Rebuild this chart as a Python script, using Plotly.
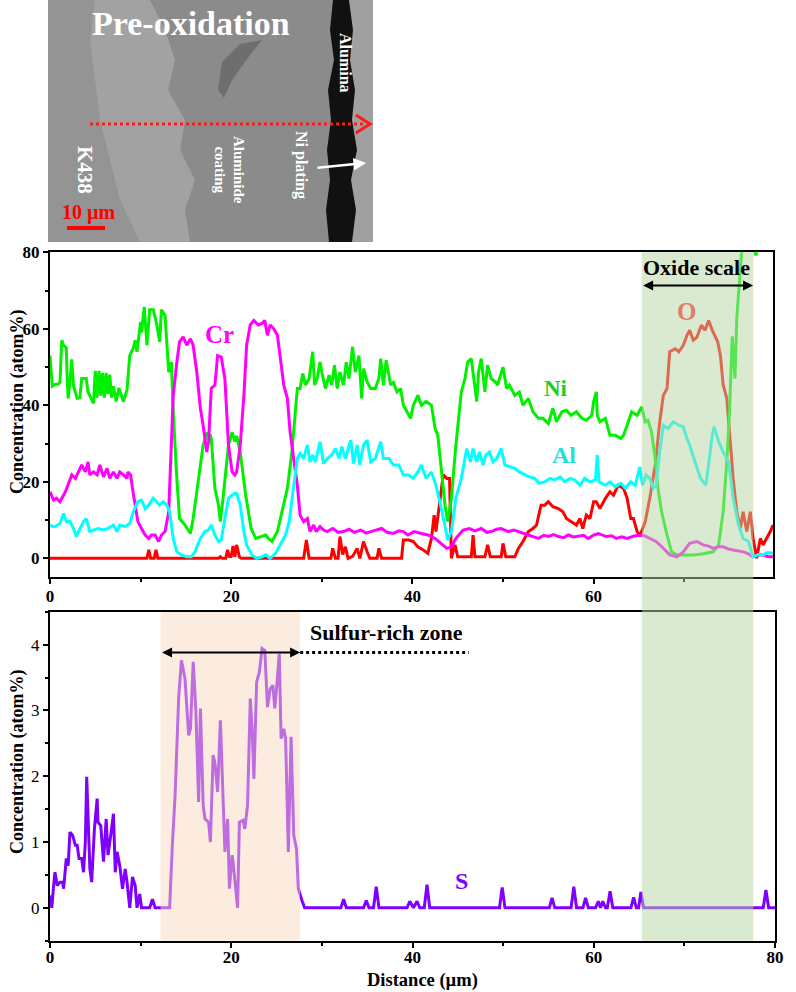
import plotly.graph_objects as go

# ---------------- data ----------------
ni_x = [0.0,0.1,0.25,0.6,0.9,1.1,1.3,1.5,1.8,1.9,2.0,2.2,2.4,2.6,2.8,3.0,3.3,3.5,4.0,4.2,4.5,4.8,5.0,5.2,5.4,5.6,5.8,6.0,6.2,6.4,6.6,6.8,7.0,7.3,7.6,8.1,8.5,8.8,9.2,9.4,9.6,10.0,10.1,10.4,10.7,11.0,11.4,11.8,12.1,12.3,12.7,13.1,13.4,13.6,14.0,14.3,14.9,15.5,15.8,16.4,16.9,17.3,17.7,17.8,18.2,18.6,18.8,19.1,19.7,20.1,20.4,20.6,21.0,21.6,22.2,22.7,23.2,23.8,24.1,24.5,25.1,25.6,26.2,26.7,27.1,27.3,27.6,27.9,28.2,28.6,29.0,29.2,29.5,29.8,30.0,30.4,30.8,31.1,31.4,31.7,32.0,32.4,32.7,33.0,33.4,33.7,34.1,34.4,34.6,35.0,35.4,35.9,36.3,36.5,36.8,37.1,37.6,37.9,38.3,38.7,39.0,39.4,39.8,40.1,40.6,41.0,41.5,42.1,42.5,42.8,43.2,43.6,43.9,44.3,44.8,45.4,45.8,46.1,46.5,46.8,47.1,47.3,47.6,48.0,48.3,48.7,49.2,49.4,50.0,50.4,50.7,51.3,51.8,52.2,52.8,53.3,53.9,54.4,55.0,55.5,55.9,56.5,57.0,57.5,58.1,58.7,59.2,59.8,60.0,60.3,60.4,60.7,61.3,61.8,62.4,63.0,63.3,63.7,64.2,64.8,65.3,65.7,66.0,66.4,66.8,67.1,67.5,68.1,68.6,69.2,69.9,71.0,72.1,73.2,73.8,74.3,74.7,75.0,75.3,75.6,75.8,76.1,76.3,76.6,77.0,77.5,77.9,78.3,78.8,79.4,80.0]
ni_y = [53,50,45,45.5,45.5,46,57,55.7,55,47,41.8,46,52,45,43,41.8,42,47,47,43.5,42,40.5,49,42,49,42.5,48.5,42,48.5,43,48,42,45,41,44.5,41,44,53,55,57,54,61.8,59,65.7,55.7,65,65,61,56.6,65,63.5,48.7,51.3,38.3,20.9,10.4,8.7,6.5,10.4,20.9,29.6,32.6,32.2,31.3,18.3,13.9,9.6,15.7,29.6,33,30.5,32,27.8,16.5,7.8,5.2,5.7,6.1,5.2,4.4,7,12.2,18.3,27.8,40,44.4,44.4,48.3,45.3,47,54,45.3,47,51.3,48.7,44.4,47.9,45.3,50.5,44.4,48.7,45.3,51.3,47,55.3,48.7,53,41.8,49.6,46.1,44.4,44.4,47,52.2,45.3,51.8,45.3,46,43.5,44.4,40,38.3,36.6,40,42.6,40,41,40,34,32.2,22.6,13.9,9.6,15.7,29.6,43.5,47,51.3,52.2,47,41,48.7,52.2,43.5,50.5,47,46,45.3,50,44.4,45.3,42.6,43.5,40,41.8,38.3,36.6,36.6,35.2,39.2,35.7,38.3,38.7,37.4,38.3,36.6,36.1,37.4,41,43.5,37.4,35.7,36.6,32.2,32.2,31.3,32.2,34.8,38.3,37.4,39.6,35.7,36.1,33,26,18.3,12.2,6.1,1.7,0.9,0.9,0.9,1.2,1.7,3.5,12.2,25.2,38.3,58,47,62.7,73,79,85,88,84,79.2,83,88,90,90]

cr_x = [0.0,0.4,0.7,1.1,1.7,2.0,2.4,2.8,3.1,3.5,3.9,4.2,4.4,4.8,5.2,5.5,5.9,6.3,6.6,7.0,7.4,7.7,8.1,8.5,8.6,8.9,9.1,9.4,9.7,10.1,10.5,10.9,11.2,11.6,12.0,12.3,12.7,13.1,13.4,13.6,14.0,14.3,14.7,15.1,15.5,15.8,16.2,16.6,16.9,17.3,17.5,17.7,17.8,18.2,18.5,18.9,19.3,19.5,19.7,20.1,20.4,20.6,21.0,21.4,21.7,22.1,22.5,23.0,23.4,23.7,24.0,24.3,24.7,25.1,25.4,25.8,26.2,26.5,26.9,27.3,27.6,28.0,28.4,28.7,29.1,29.4,29.8,30.2,30.6,31.2,31.8,32.4,33.0,33.6,34.3,34.9,35.4,36.0,36.6,37.2,37.9,38.5,39.0,39.5,40.2,41.0,41.7,42.5,43.2,43.8,44.3,44.8,45.6,46.3,46.9,47.6,48.2,48.7,49.3,49.8,50.6,51.2,51.7,52.3,52.8,53.4,53.9,54.5,55.0,55.6,56.1,56.7,57.2,57.8,58.3,58.9,59.4,60.0,60.5,61.4,62.0,62.5,63.1,63.7,64.4,65.1,65.7,66.2,66.9,67.7,68.4,69.2,69.9,70.6,71.4,72.1,72.7,73.2,73.8,74.3,74.9,75.4,76.0,76.5,77.0,77.6,78.2,78.7,79.2,79.8]
cr_y = [17.4,15.2,15.7,14.8,17.4,19.1,21.8,20.9,22.6,24.4,22.6,25.2,21.8,22.6,21.8,24.4,21.3,23.5,20.9,22.6,20.9,22.6,21.8,20.9,22.6,21.8,18.3,13.9,9.6,7.8,6.1,5.2,6.1,6.1,4.4,6.1,7,12.2,29.6,42.6,51.3,56.6,57.9,55.7,57.4,55.7,48.7,39.2,34.8,27.8,30.5,38.3,44.4,45.3,53,52.6,47,38.3,29.6,22.6,21.8,22.6,29.6,42.6,55.7,61,62.2,61,61.4,62.2,58.3,61,60,58.3,52.2,45.3,41.8,33,26,19.1,11.3,9.6,10.4,7,8.7,7,8.3,7.4,7,7.8,6.8,7,7.6,6.8,7.4,6.6,7,7.4,7.8,6.8,6.5,7.2,7,6.1,7,6.5,6.1,5.2,3.9,2.6,3,5.2,7.4,7.8,7.2,7.8,6.8,7,7.6,7.8,7,7.4,7,6.6,6.1,5.6,5.2,6,5.7,6.2,5.7,5.4,6.1,5.6,5.7,6,5.2,6.1,6.5,5.7,5.9,5.2,5.6,5.2,5.8,6.1,5.8,5.2,4.4,2.6,0.9,0.4,1.7,3.9,4.4,3.5,3.2,2.6,3.0,3,2.4,2.2,2.0,1.7,1.3,0.4,0.9,0.9,0.5,0.4]

al_x = [0.0,0.3,0.6,1.1,1.5,1.8,2.2,2.6,2.9,3.3,3.7,4.0,4.4,4.8,5.3,5.9,6.4,7.0,7.4,7.7,8.3,8.8,9.2,9.7,10.1,10.5,10.9,11.4,11.8,12.1,12.5,12.9,13.2,13.6,14.0,14.5,15.1,15.6,16.0,16.6,17.1,17.5,17.8,18.2,18.6,18.9,19.3,19.7,20.1,20.4,20.6,21.0,21.4,21.7,22.3,22.8,23.4,23.8,24.3,24.9,25.4,26.0,26.4,26.7,27.1,27.3,27.6,28.0,28.4,28.7,29.0,29.3,29.8,30.2,30.6,31.1,31.5,31.9,32.2,32.6,33.2,33.5,33.9,34.2,34.6,35.0,35.4,35.9,36.5,36.8,37.4,37.9,38.5,39.0,39.6,40.1,40.6,41.0,41.5,42.1,42.6,43.2,43.6,43.9,44.3,44.8,45.4,45.8,46.0,46.4,46.7,47.1,47.4,47.8,48.1,48.5,48.9,49.3,49.8,50.2,50.7,51.3,51.8,52.4,52.9,53.5,54.0,54.6,55.2,55.7,56.3,56.8,57.4,57.9,58.5,59.0,59.6,60.2,60.4,60.6,61.3,61.8,62.4,63.0,63.5,64.1,64.6,65.1,65.4,65.8,66.2,66.6,66.9,67.3,67.7,68.2,68.8,69.4,69.9,70.3,70.6,71.2,71.8,72.4,72.7,73.1,73.3,73.8,74.3,74.9,75.4,76.0,76.5,77.1,77.6,78.2,78.7,79.2,79.8]
al_y = [8.7,8.3,8.3,9.1,11.7,9.6,9.6,7.8,5.7,7.8,9.6,10.4,7,7.4,7.8,7.4,7.8,8.7,7,8.7,8.3,9.1,12.2,14.8,15.2,13,13.9,15.7,14.8,13.9,14.8,13.9,12.2,5.2,1.7,0.9,0.4,0.4,1.7,5.2,7,7.4,8.7,6.1,4.4,4.8,10.4,15.7,16.5,17,17,13.9,7,3.5,0.9,0,0.4,0.9,0,1.3,3.5,6.1,9.6,15.7,22.6,26.1,27.4,26.1,29.6,25.2,27,25.2,30.5,24.8,26.1,27,28.7,26.1,29.2,26.1,30.9,24.8,29.6,24.4,29.6,30.9,25.2,26.1,30.5,26.1,26.1,24.4,24.4,21.8,21.8,20.9,22.6,24.4,20.9,22.6,19.1,13,7.8,4.8,7,15.7,20.9,26.1,28.7,25.2,28.7,25.2,27.8,24.4,27,27.8,25.2,26.1,28.7,24.4,23.9,23.5,22.6,21.8,21.3,20.9,19.6,20,20.9,20.5,21.3,20,20.9,20.5,19.1,20.9,20,20.5,27,20,19.1,20,18.7,19.6,18.3,20,19.1,23.9,19.1,21.8,20.9,18.3,19.1,27.8,34.8,33.9,35.7,34.8,34.4,31.3,29.6,25.2,20.9,19.1,25.2,32.2,34.4,30.5,27.8,25.2,15.7,8.7,5.2,4.4,0.4,1.0,0.9,1.5,1.3]

o_x = [0.0,10.7,10.9,11.1,11.5,11.7,11.9,18.6,18.8,19.0,19.4,19.6,19.8,20.0,20.2,20.4,20.6,20.9,21.1,28.0,28.3,28.6,31.0,31.2,31.5,31.8,32.0,32.3,32.6,32.9,33.4,33.9,34.2,34.6,35.0,35.3,36.1,36.3,36.6,38.8,39.0,39.6,40.1,40.6,41.2,41.7,42.1,42.4,42.6,43.0,43.4,43.8,44.1,44.3,44.7,45.0,45.8,46.5,46.7,46.9,48.0,48.3,48.6,49.8,50.0,50.3,51.3,51.7,52.2,52.8,53.3,53.7,54.2,54.6,55.0,55.5,56.1,56.6,57.0,57.5,58.1,58.5,58.8,59.2,59.6,60.0,60.3,60.7,61.3,61.8,62.2,62.7,63.3,63.7,64.1,64.4,64.8,65.1,65.3,65.7,66.2,66.8,67.3,67.7,68.1,68.4,69.0,69.4,69.9,70.3,70.6,71.0,71.4,71.9,72.3,72.7,73.1,73.7,74.0,74.3,74.7,75.0,75.4,75.8,76.2,76.5,76.9,77.3,77.6,78.0,78.4,78.7,79.1,79.5,79.8]
o_y = [0,0,2.2,0,0,2.2,0,0,0.4,0,0,2.2,0.5,0.5,3.2,0.4,3.5,0.4,0,0,4.8,0,0,2.6,0,0,5.7,1.0,3,0,0.5,2.6,0,4.4,1.7,0,0,2.6,0,0,4.8,4.8,4.4,3,2.2,1.3,5.2,11.3,7,13.9,21.8,20.9,20.9,0,3.5,0.4,0.4,0.4,6.1,0.4,0.4,3.5,0.4,0.4,3.9,0.4,0.4,2.6,4.4,7,7.8,8.7,13.9,13.9,14.8,13.5,13,12.2,10.4,9.6,8.7,10.4,7.8,11.3,10.4,14.8,14.8,13,15.7,17.4,16.5,19.1,18.3,15.7,10.4,10.4,7,6.1,7,9.6,15.7,24.4,35.7,42.6,44.4,54,54.8,54,55.7,58.3,59.6,57,57.8,61,59.6,62.2,59.6,56.6,53,45.3,41.8,33,20.9,12.2,7.8,12.2,7,12.2,5.2,0,5.2,3.5,5.2,7,8.7]

s_x = [0.0,0.2,0.4,0.55,0.8,1.1,1.4,1.5,1.8,2.0,2.2,2.5,2.8,3.0,3.2,3.5,3.7,3.9,4.05,4.2,4.4,4.6,4.9,5.2,5.3,5.6,5.9,6.2,6.4,6.7,7.0,7.2,7.4,7.7,8.0,8.3,8.5,8.8,9.1,9.4,9.6,9.9,10.1,11.0,11.3,11.6,13.2,13.5,13.8,14.2,14.5,14.9,15.3,15.5,15.8,16.1,16.4,16.6,16.9,17.1,17.5,17.7,18.0,18.2,18.5,18.8,19.1,19.3,19.6,19.8,20.1,20.2,20.7,20.9,21.3,21.5,21.8,22.1,22.3,22.5,22.8,23.1,23.4,23.7,24.0,24.3,24.6,24.8,25.0,25.3,25.5,25.8,26.0,26.3,26.6,26.9,27.2,27.4,27.8,28.1,32.1,32.4,32.7,34.6,34.9,35.2,35.7,36.0,36.3,39.4,39.7,40.1,40.5,40.8,41.3,41.6,41.9,49.6,49.9,50.2,55.1,55.4,55.7,57.5,57.8,58.1,58.8,59.1,59.4,60.2,60.5,60.75,61.0,61.3,61.5,61.8,62.1,64.1,64.4,64.7,64.95,65.2,65.5,78.7,79.0,79.3,80.0]
s_y = [0.19,0,0.34,0.54,0.34,0.39,0.39,0.29,0.75,0.64,1.15,1.1,0.95,0.95,0.75,0.75,0.54,1.0,1.99,1.45,0.59,0.39,1.2,1.66,1.3,1.25,0.7,1.35,0.8,1.1,1.43,0.54,0.85,0.64,0.29,0.59,0.39,0,0.47,0.34,0,0.21,0,0,0.13,0,0,0.95,1.7,3.2,3.76,3.48,2.62,2.72,3.74,2.98,1.61,3.03,1.56,1.35,1.3,1.0,2.32,2.2,1.76,2.85,1.7,0.85,1.35,0.29,0.8,0.7,0,1.3,1.33,1.2,1.56,3.18,2.72,1.96,3.43,3.58,3.94,3.91,3.05,3.33,3.38,3.03,3.33,3.86,2.57,2.72,2.57,0.85,2.6,1.1,0.9,0.29,0.11,0,0,0.13,0,0,0.11,0,0,0.32,0,0,0.1,0,0.1,0,0,0.35,0,0,0.31,0,0,0.15,0,0,0.32,0,0,0.15,0,0,0.1,0,0.1,0,0,0.25,0,0,0.16,0,0,0.24,0,0,0.27,0,0]

x_ticks = [0, 20, 40, 60, 80]
top_y_ticks = [0, 20, 40, 60, 80]
bot_y_ticks = [0, 1, 2, 3, 4]
oxide_zone = [65.3, 77.6]
sulfur_zone = [12.2, 27.6]

# ---------------- figure ----------------
W, H = 796, 992
def PX(px): return px / W
def PY(py): return 1 - py / H

SERIF = "Liberation Serif"
fig = go.Figure()

line_w = 3
fig.add_trace(go.Scatter(x=o_x, y=o_y, mode="lines", line=dict(color="#ff0000", width=line_w), xaxis="x", yaxis="y", name="O"))
fig.add_trace(go.Scatter(x=ni_x, y=ni_y, mode="lines", line=dict(color="#00f000", width=line_w), xaxis="x", yaxis="y", name="Ni"))
fig.add_trace(go.Scatter(x=cr_x, y=cr_y, mode="lines", line=dict(color="#ff00ff", width=line_w), xaxis="x", yaxis="y", name="Cr"))
fig.add_trace(go.Scatter(x=al_x, y=al_y, mode="lines", line=dict(color="#00ffff", width=line_w), xaxis="x", yaxis="y", name="Al"))
fig.add_trace(go.Scatter(x=s_x, y=s_y, mode="lines", line=dict(color="#8000ff", width=line_w), xaxis="x2", yaxis="y2", name="S"))

axis_common = dict(showline=True, linecolor="black", linewidth=2, mirror=True,
                   ticks="outside", ticklen=5, tickwidth=1.5, tickcolor="black",
                   showgrid=False, zeroline=False)

top_dom = [PY(576.7), PY(252.3)]
bot_dom = [PY(940.7), PY(611.7)]

fig.update_layout(
    width=W, height=H, margin=dict(l=0, r=0, t=0, b=0, autoexpand=False),
    paper_bgcolor="white", plot_bgcolor="rgba(0,0,0,0)", showlegend=False,
    font=dict(family=SERIF, color="black"),
    xaxis=dict(domain=[PX(50), PX(773)], range=[0, 79.8], tickvals=x_ticks,
               tickfont=dict(family=SERIF, size=17, weight="bold"), anchor="y", ticklabelstandoff=-2,
               minor=dict(dtick=10, ticks="outside", ticklen=3, tickcolor="black"), **axis_common),
    yaxis=dict(domain=top_dom, range=[-4.8, 80], tickvals=top_y_ticks,
               tickfont=dict(family=SERIF, size=17, weight="bold"), anchor="x",
               minor=dict(dtick=10, ticks="outside", ticklen=3, tickcolor="black"), **axis_common),
    xaxis2=dict(domain=[PX(50), PX(775)], range=[0, 80], tickvals=x_ticks,
                tickfont=dict(family=SERIF, size=17, weight="bold"), anchor="y2", ticklabelstandoff=-5,
                minor=dict(dtick=10, ticks="outside", ticklen=3, tickcolor="black"), **axis_common),
    yaxis2=dict(domain=bot_dom, range=[-0.5, 4.5], tickvals=bot_y_ticks,
                tickfont=dict(family=SERIF, size=17), anchor="x2",
                minor=dict(dtick=0.5, ticks="outside", ticklen=3, tickcolor="black"), **axis_common),
)

shapes = []
# ---- SEM micrograph mock-up ----
def path(pts):
    return "M " + " L ".join(f"{PX(a):.5f},{PY(b):.5f}" for a, b in pts) + " Z"

shapes.append(dict(type="rect", xref="paper", yref="paper", x0=PX(48), x1=PX(373), y0=PY(242), y1=PY(0),
                   fillcolor="#8b8b8b", line=dict(width=0), layer="below"))
shapes.append(dict(type="path", xref="paper", yref="paper", layer="below", line=dict(width=0), fillcolor="#949494",
                   path=path([(48,0),(95,0),(90,40),(95,80),(100,120),(110,160),(120,200),(140,242),(48,242)])))
shapes.append(dict(type="path", xref="paper", yref="paper", layer="below", line=dict(width=0), fillcolor="#a2a2a2",
                   path=path([(95,0),(150,0),(165,30),(175,60),(168,90),(185,120),(180,150),(195,180),(185,210),(190,242),
                              (140,242),(120,200),(110,160),(100,120),(95,80),(90,40)])))
shapes.append(dict(type="path", xref="paper", yref="paper", layer="below", line=dict(width=0), fillcolor="#6e6e6e",
                   path=path([(222,62),(240,44),(262,40),(250,55),(232,80),(224,98),(218,90)])))
shapes.append(dict(type="path", xref="paper", yref="paper", layer="below", line=dict(width=0), fillcolor="#a0a0a0",
                   path=path([(349,0),(373,0),(373,242),(352,242)])))
shapes.append(dict(type="path", xref="paper", yref="paper", layer="below", line=dict(width=0), fillcolor="#111111",
                   path=path([(333,0),(330,30),(334,60),(328,90),(331,120),(327,150),(330,180),(326,210),(329,242),
                              (352,242),(356,210),(351,180),(357,150),(352,120),(355,90),(350,60),(353,30),(349,0)])))
# red dotted scan line with open arrowhead
shapes.append(dict(type="line", xref="paper", yref="paper", x0=PX(90), x1=PX(366), y0=PY(124), y1=PY(124),
                   line=dict(color="#ff1a1a", width=3, dash="dot")))
shapes.append(dict(type="path", xref="paper", yref="paper", line=dict(color="#ff1a1a", width=3),
                   path=f"M {PX(356):.5f},{PY(115):.5f} L {PX(370):.5f},{PY(124):.5f} L {PX(356):.5f},{PY(133):.5f}"))
# scale bar
shapes.append(dict(type="line", xref="paper", yref="paper", x0=PX(67), x1=PX(105), y0=PY(228), y1=PY(228),
                   line=dict(color="#ff0000", width=4)))

# ---- highlighted zones ----
shapes.append(dict(type="rect", xref="x2", yref="paper", x0=oxide_zone[0], x1=oxide_zone[1],
                   y0=bot_dom[0], y1=top_dom[1], fillcolor="rgba(181,213,161,0.5)", line=dict(width=0), layer="above"))
shapes.append(dict(type="rect", xref="x2", yref="y2", x0=sulfur_zone[0], x1=sulfur_zone[1],
                   y0=-0.5, y1=4.5, fillcolor="rgba(249,217,193,0.5)", line=dict(width=0), layer="above"))
# dotted extension of the sulfur-rich zone arrow
shapes.append(dict(type="line", xref="x2", yref="y2", x0=sulfur_zone[1], x1=46.2, y0=3.88, y1=3.88,
                   line=dict(color="black", width=3, dash="dot")))
fig.update_layout(shapes=shapes)

ann = []
def txt(x, y, text, size, color="white", angle=0, xref="paper", yref="paper", bold=True):
    ann.append(dict(x=x, y=y, xref=xref, yref=yref, text=f"<b>{text}</b>" if bold else text, showarrow=False,
                    textangle=angle, xanchor="center", yanchor="middle",
                    font=dict(family=SERIF, size=size, color=color)))

# micrograph labels
txt(PX(191), PY(24), "Pre-oxidation", 34)
txt(PX(345), PY(63), "Alumina", 16, angle=90)
txt(PX(85), PY(170), "K438", 21, angle=90)
txt(PX(229), PY(170), "Aluminide<br>coating", 15, angle=90)
txt(PX(301), PY(165), "Ni plating", 16, angle=90)
txt(PX(89), PY(212), "10 µm", 20, color="#ff0000")
ann.append(dict(x=PX(366), y=PY(163), xref="paper", yref="paper", ax=-50, ay=5, showarrow=True,
                arrowhead=2, arrowsize=1, arrowwidth=2.5, arrowcolor="white", text=""))

# axis titles
txt(PX(17), PY(402), "Concentration (atom%)", 18, color="black", angle=-90)
txt(PX(17), PY(762), "Concentration (atom%)", 18, color="black", angle=-90)
txt(PX(422), PY(980), "Distance (µm)", 18.5, color="black")

# element labels
txt(18.7, 58.6, "Cr", 25, color="#ff00ff", xref="x", yref="y")
txt(55.9, 44.5, "Ni", 23, color="#22cc22", xref="x", yref="y")
txt(56.7, 27.0, "Al", 24, color="#22e0e0", xref="x", yref="y")
txt(70.2, 64.6, "O", 25, color="#e07e66", xref="x", yref="y")
txt(71.4, 75.9, "Oxide scale", 22, color="black", xref="x", yref="y")
txt(37.1, 4.19, "Sulfur-rich zone", 22, color="black", xref="x2", yref="y2")
txt(45.4, 0.4, "S", 24, color="#8000ff", xref="x2", yref="y2")

# double arrows
ann.append(dict(x=oxide_zone[1], y=71.3, ax=oxide_zone[0], ay=71.3, xref="x", yref="y", axref="x", ayref="y",
                showarrow=True, arrowhead=2, startarrowhead=2, arrowside="end+start", arrowsize=1,
                arrowwidth=2, arrowcolor="black", text=""))
ann.append(dict(x=sulfur_zone[1], y=3.88, ax=sulfur_zone[0], ay=3.88, xref="x2", yref="y2", axref="x2", ayref="y2",
                showarrow=True, arrowhead=2, startarrowhead=2, arrowside="end+start", arrowsize=1,
                arrowwidth=2, arrowcolor="black", text=""))
fig.update_layout(annotations=ann)

fig.write_html("out.html", config={"displayModeBar": False},
               post_script="document.documentElement.style.margin='0';document.body.style.margin='0';"
                           "document.body.style.padding='0';document.body.style.overflow='hidden';")
